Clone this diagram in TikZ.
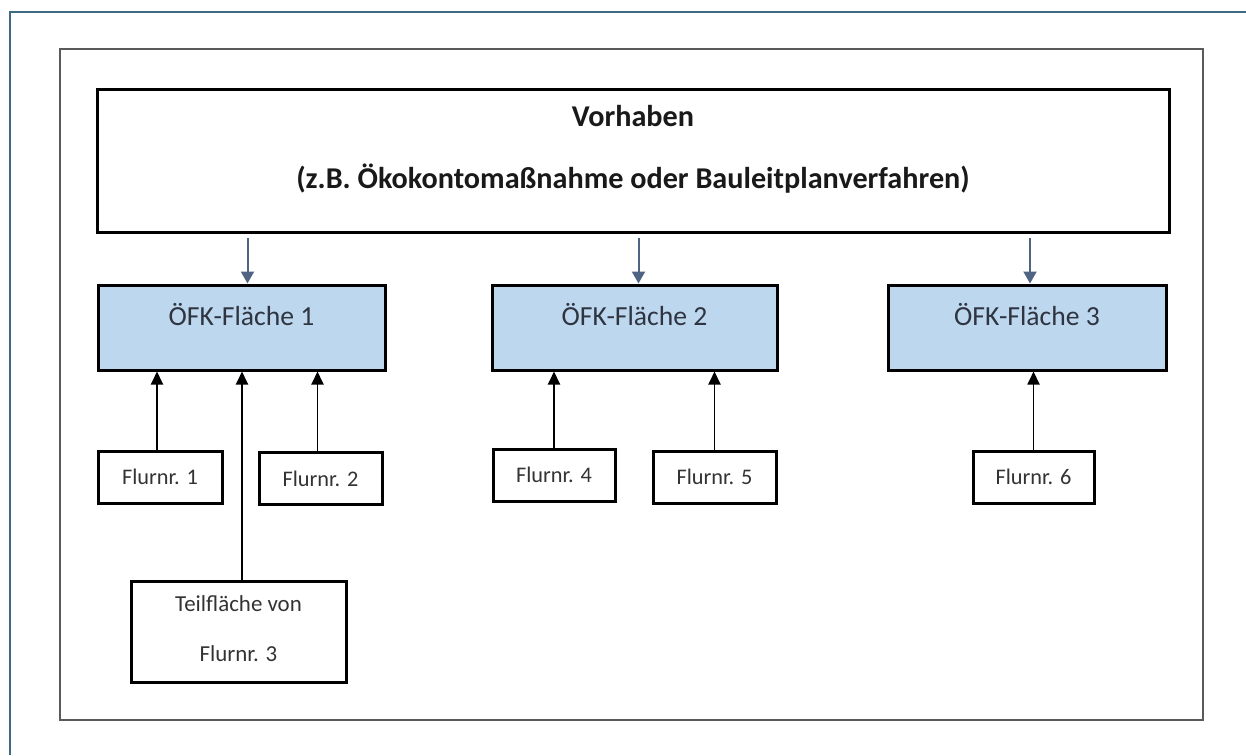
\documentclass[tikz,border=0pt]{standalone}
\usepackage{fontspec}
\setmainfont{Carlito}
\usetikzlibrary{arrows.meta}
\definecolor{frameblue}{HTML}{3F6A85}
\definecolor{framegray}{HTML}{5A5A5A}
\definecolor{fillblue}{HTML}{BDD7EE}
\definecolor{arrowblue}{HTML}{4F6382}
\definecolor{txtdark}{HTML}{2E3440}
\definecolor{txtgray}{HTML}{333333}
\newcommand\liftby[2]{\smash{\raisebox{#1}{#2}}}
\begin{document}
\begin{tikzpicture}[x=1pt,y=-1pt,
 box/.style={draw=black, line width=3pt, rectangle, inner sep=0pt, fill=white},
 topbox/.style={box, minimum width=1072pt, minimum height=142.5pt, text=black!90, font=\fontsize{30.2}{35}\selectfont\bfseries},
 ofk/.style={box, fill=fillblue, minimum height=85pt, text=txtdark, font=\fontsize{27.6}{32}\selectfont},
 flur/.style={box, minimum width=123pt, minimum height=52pt, text=txtgray, font=\fontsize{22.3}{26}\selectfont},
 down/.style={draw=arrowblue, line width=2pt, -{Triangle[width=13pt,length=12pt]}, shorten <=4pt},
 up/.style={draw=black, line width=1.9pt, -{Triangle[width=12pt,length=13pt]}},
]
\useasboundingbox (0,0) rectangle (1246,755);
% outer frames
\draw[frameblue, line width=2.5pt] (10,755) -- (10,12) -- (1246,12);
\draw[framegray, line width=2.2pt] (60,49) rectangle (1203,720);

% top box
\node[topbox] (v) at (633,161) {\liftby{-27pt}{\begin{tabular}[b]{@{}c@{}}Vorhaben\\[26pt](z.B. Ökokontomaßnahme oder Bauleitplanverfahren)\end{tabular}}};

% OFK boxes
\node[ofk, minimum width=287pt] (o1) at (241.5,327.5) {\liftby{2.5pt}{ÖFK-Fläche 1}};
\node[ofk, minimum width=285pt] (o2) at (634.5,327.5) {\liftby{2.5pt}{ÖFK-Fläche 2}};
\node[ofk, minimum width=278pt] (o3) at (1027,327.5) {\liftby{2.5pt}{ÖFK-Fläche 3}};

% Flurnr boxes
\node[flur, minimum width=124pt] (f1) at (160,477) {Flurnr. 1};
\node[flur] (f2) at (320.5,478.5) {Flurnr. 2};
\node[flur, minimum width=122pt] (f4) at (554,475) {Flurnr. 4};
\node[flur] (f5) at (714.5,477) {Flurnr. 5};
\node[flur, minimum width=121pt] (f6) at (1033.5,477) {Flurnr. 6};
\node[box, minimum width=215pt, minimum height=101pt, text=txtgray, font=\fontsize{22.9}{26}\selectfont] (t) at (238.5,631.5) {\liftby{-30pt}{\begin{tabular}[b]{@{}c@{}}Teilfläche von\\[24pt]Flurnr. 3\end{tabular}}};

% arrows from top box
\draw[down] ([xshift=6pt]o1.north |- v.south) -- ([xshift=6pt]o1.north);
\draw[down] ([xshift=4pt]o2.north |- v.south) -- ([xshift=4pt]o2.north);
\draw[down] ([xshift=3pt]o3.north |- v.south) -- ([xshift=3pt]o3.north);

% arrows up
\draw[up] ([xshift=-3pt]f1.north) -- ([xshift=-3pt]f1.north |- o1.south);
\draw[up] ([xshift=-3pt]f2.north) -- ([xshift=-3pt]f2.north |- o1.south);
\draw[up] ([xshift=3.5pt]t.north) -- ([xshift=3.5pt]t.north |- o1.south);
\draw[up] (f4.north) -- (f4.north |- o2.south);
\draw[up] (f5.north) -- (f5.north |- o2.south);
\draw[up] (f6.north) -- (f6.north |- o3.south);
\end{tikzpicture}
\end{document}
